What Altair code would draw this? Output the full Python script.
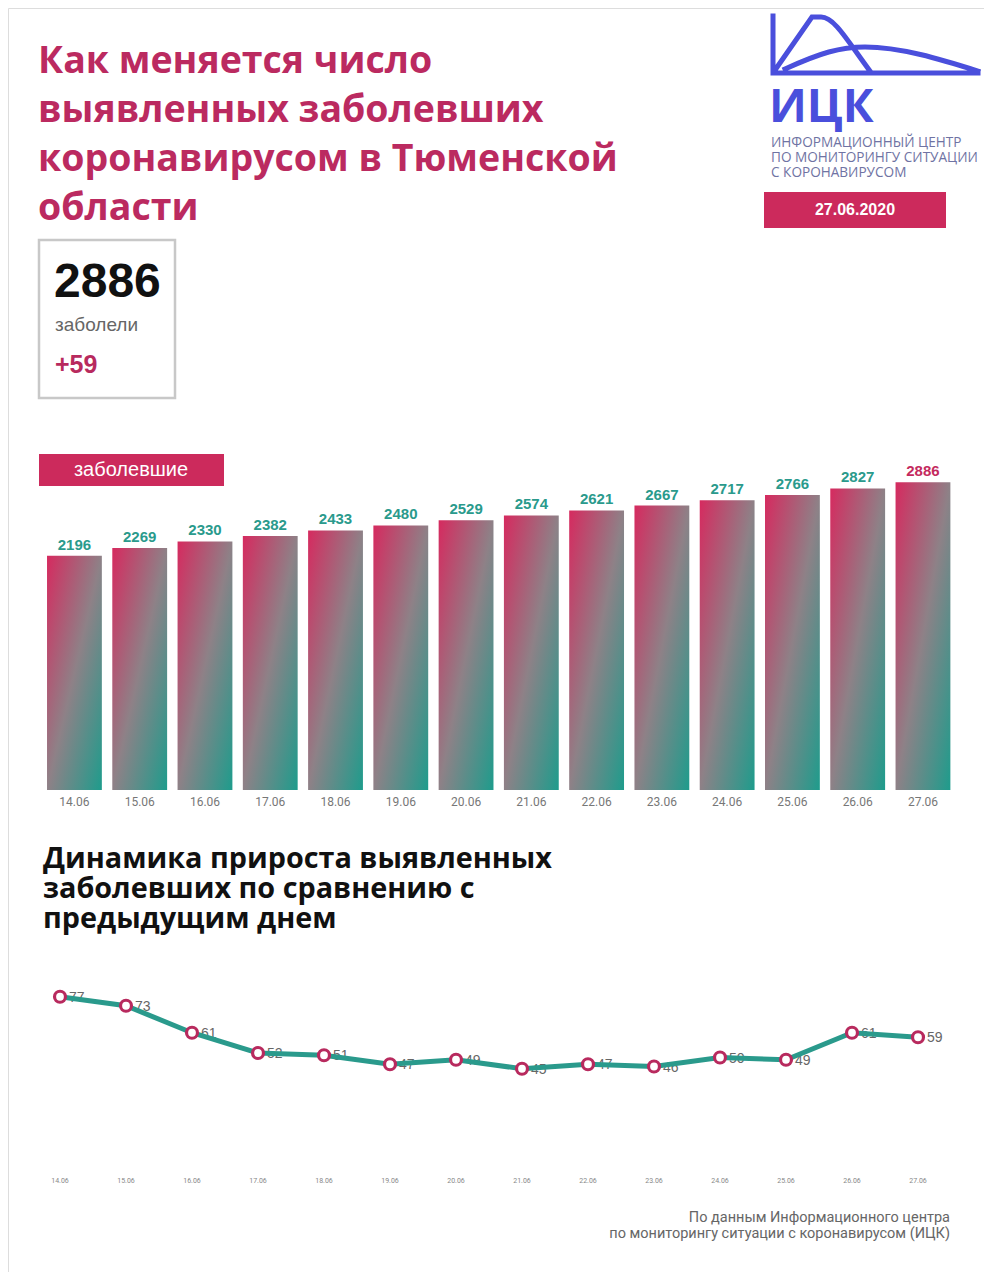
import altair as alt
import pandas as pd

# ---------------- data ----------------
dates = ["14.06", "15.06", "16.06", "17.06", "18.06", "19.06", "20.06",
         "21.06", "22.06", "23.06", "24.06", "25.06", "26.06", "27.06"]
cases = [2196, 2269, 2330, 2382, 2433, 2480, 2529, 2574, 2621, 2667, 2717, 2766, 2827, 2886]
growth = [77, 73, 61, 52, 51, 47, 49, 45, 47, 46, 50, 49, 61, 59]

title_lines = ["Как меняется число", "выявленных заболевших",
               "коронавирусом в Тюменской", "области"]
logo_lines = ["ИНФОРМАЦИОННЫЙ ЦЕНТР", "ПО МОНИТОРИНГУ СИТУАЦИИ", "С КОРОНАВИРУСОМ"]
report_date = "27.06.2020"
total_text = "2886"
total_label = "заболели"
delta_text = "+59"
bar_label = "заболевшие"
line_title = ["Динамика прироста выявленных", "заболевших по сравнению с", "предыдущим днем"]
footer_lines = ["По данным Информационного центра",
                "по мониторингу ситуации с коронавирусом (ИЦК)"]

CRIMSON = "#c42a5e"
TEAL = "#2a9a8c"
BLUE = "#4a4fdc"

bars_df = pd.DataFrame({"date": dates, "cases": cases})
line_df = pd.DataFrame({"day": dates, "growth": growth})
one = pd.DataFrame({"k": [0]})

W, H = 976, 1264

# scales (explicit pixel ranges inside the single canvas)
bx = alt.X("date:N", sort=dates, axis=None,
           scale=alt.Scale(type="band", domain=dates, range=[33.8, 947.6],
                           paddingInner=0.16, paddingOuter=0.08))
by = alt.Y("cases:Q", axis=None, scale=alt.Scale(domain=[0, 3000], range=[782, 462]))
lx = alt.X("day:N", sort=dates, axis=None,
           scale=alt.Scale(type="point", domain=dates, range=[52, 910], padding=0))
ly = alt.Y("growth:Q", axis=None, scale=alt.Scale(domain=[0, 100], range=[1162, 937]))

gradient = alt.Gradient(
    gradient="linear",
    stops=[alt.GradientStop(color="#d62a5f", offset=0),
           alt.GradientStop(color="#8e8187", offset=0.5),
           alt.GradientStop(color="#1e9c8c", offset=1)],
    x1=0, y1=0, x2=1, y2=1)

bars = alt.Chart(bars_df).mark_bar(color=gradient).encode(x=bx, y=by)

bar_values = alt.Chart(bars_df).mark_text(
    font="Liberation Sans", fontWeight="bold", fontSize=15, baseline="alphabetic", dy=-6
).encode(
    x=bx, y=by, text="cases:Q",
    color=alt.condition(alt.datum.date == "27.06", alt.value(CRIMSON), alt.value(TEAL)))

bar_dates = alt.Chart(bars_df).mark_text(
    font="Roboto", fontSize=12, color="#777777", baseline="middle"
).encode(x=bx, y=alt.value(794), text="date:N")

line = alt.Chart(line_df).mark_line(color=TEAL, strokeWidth=5).encode(x=lx, y=ly)
pts = alt.Chart(line_df).mark_point(
    shape="circle", size=120, filled=True, fill="white", stroke="#b82a5e",
    strokeWidth=3.2, opacity=1).encode(x=lx, y=ly)
pt_labels = alt.Chart(line_df).mark_text(
    font="Liberation Sans", fontSize=14, color="#666666", align="left",
    baseline="middle", dx=9, dy=1).encode(x=lx, y=ly, text="growth:Q")
line_dates = alt.Chart(line_df).mark_text(
    font="Roboto", fontSize=7, color="#888888", baseline="middle"
).encode(x=lx, y=alt.value(1173), text="day:N")

# ---------------- decorations ----------------
def text_layer(txt, x, y, **kw):
    return alt.Chart(one).mark_text(text=txt, **kw).encode(x=alt.value(x), y=alt.value(y))

def box(x1, x2, y1, y2, **kw):
    return alt.Chart(one).mark_rect(**kw).encode(
        x=alt.value(x1), x2=alt.value(x2), y=alt.value(y1), y2=alt.value(y2))

title = text_layer(title_lines, 30, 65, font="Open Sans", fontWeight="bold",
                   fontSize=37.5, lineHeight=49, color="#bb2a60", align="left",
                   baseline="alphabetic")

logo_path = ("M-1,-0.278 L-1,0.278 L1,0.278 "
             "M-0.973,0.239 L-0.62,-0.268 L-0.53,-0.268 "
             "C-0.40,-0.268 -0.27,-0.03 -0.054,0.259 "
             "M-0.883,0.239 C-0.541,0.083 -0.346,0.024 -0.102,0.024 "
             "C0.239,0.024 0.629,0.141 1,0.259")
logo = alt.Chart(one).mark_point(
    shape=logo_path, size=42025, filled=False, stroke=BLUE, strokeWidth=5,
    opacity=1, strokeCap="square", strokeJoin="miter"
).encode(x=alt.value(867.5), y=alt.value(36.5))

logo_word = text_layer("ИЦК", 761, 114, font="Open Sans", fontWeight="bold",
                       fontSize=46, color=BLUE, align="left", baseline="alphabetic")
logo_sub = text_layer(logo_lines, 763, 139, font="Open Sans", fontSize=13.6,
                      lineHeight=15, color="#6f73a3",
                      align="left", baseline="alphabetic")
date_box = box(756, 938, 184, 220, color="#cc2a5c")
date_txt = text_layer(report_date, 847, 202, font="Liberation Sans", fontWeight="bold",
                      fontSize=16, color="white", align="center", baseline="middle")

stat_box = box(31, 167, 232, 390, fill="white", stroke="#c8c8c8", strokeWidth=2.5)
stat_num = text_layer(total_text, 46, 289, font="Liberation Sans", fontWeight="bold",
                      fontSize=48, color="#111111", align="left", baseline="alphabetic")
stat_lbl = text_layer(total_label, 47, 323, font="Liberation Sans", fontSize=19,
                      color="#666666", align="left", baseline="alphabetic")
stat_delta = text_layer(delta_text, 47, 365, font="Liberation Sans", fontWeight="bold",
                        fontSize=25, color="#b82a5e", align="left", baseline="alphabetic")

lbl_box = box(31, 216, 446, 478, color="#cc2a5c")
lbl_txt = text_layer(bar_label, 123, 462, font="Liberation Sans", fontSize=20,
                     color="white", align="center", baseline="middle")

ltitle = text_layer(line_title, 35, 860, font="Open Sans", fontWeight="bold",
                    fontSize=28.8, lineHeight=30, color="#111111", align="left",
                    baseline="alphabetic")

footer = text_layer(footer_lines, 942, 1214, font="Roboto", fontSize=14.5,
                    lineHeight=16, color="#666666", align="right", baseline="alphabetic")

chart = alt.layer(
    title, logo, logo_word, logo_sub, date_box, date_txt,
    stat_box, stat_num, stat_lbl, stat_delta, lbl_box, lbl_txt,
    bars, bar_values, bar_dates,
    ltitle, pt_labels, line, pts, line_dates, footer
).resolve_scale(x="independent", y="independent").properties(
    width=W, height=H, autosize=alt.AutoSizeParams(type="none"), padding=0
).configure_view(stroke=None).configure(background="white")

chart.save("out.html", embed_options={"renderer": "svg", "actions": False})
